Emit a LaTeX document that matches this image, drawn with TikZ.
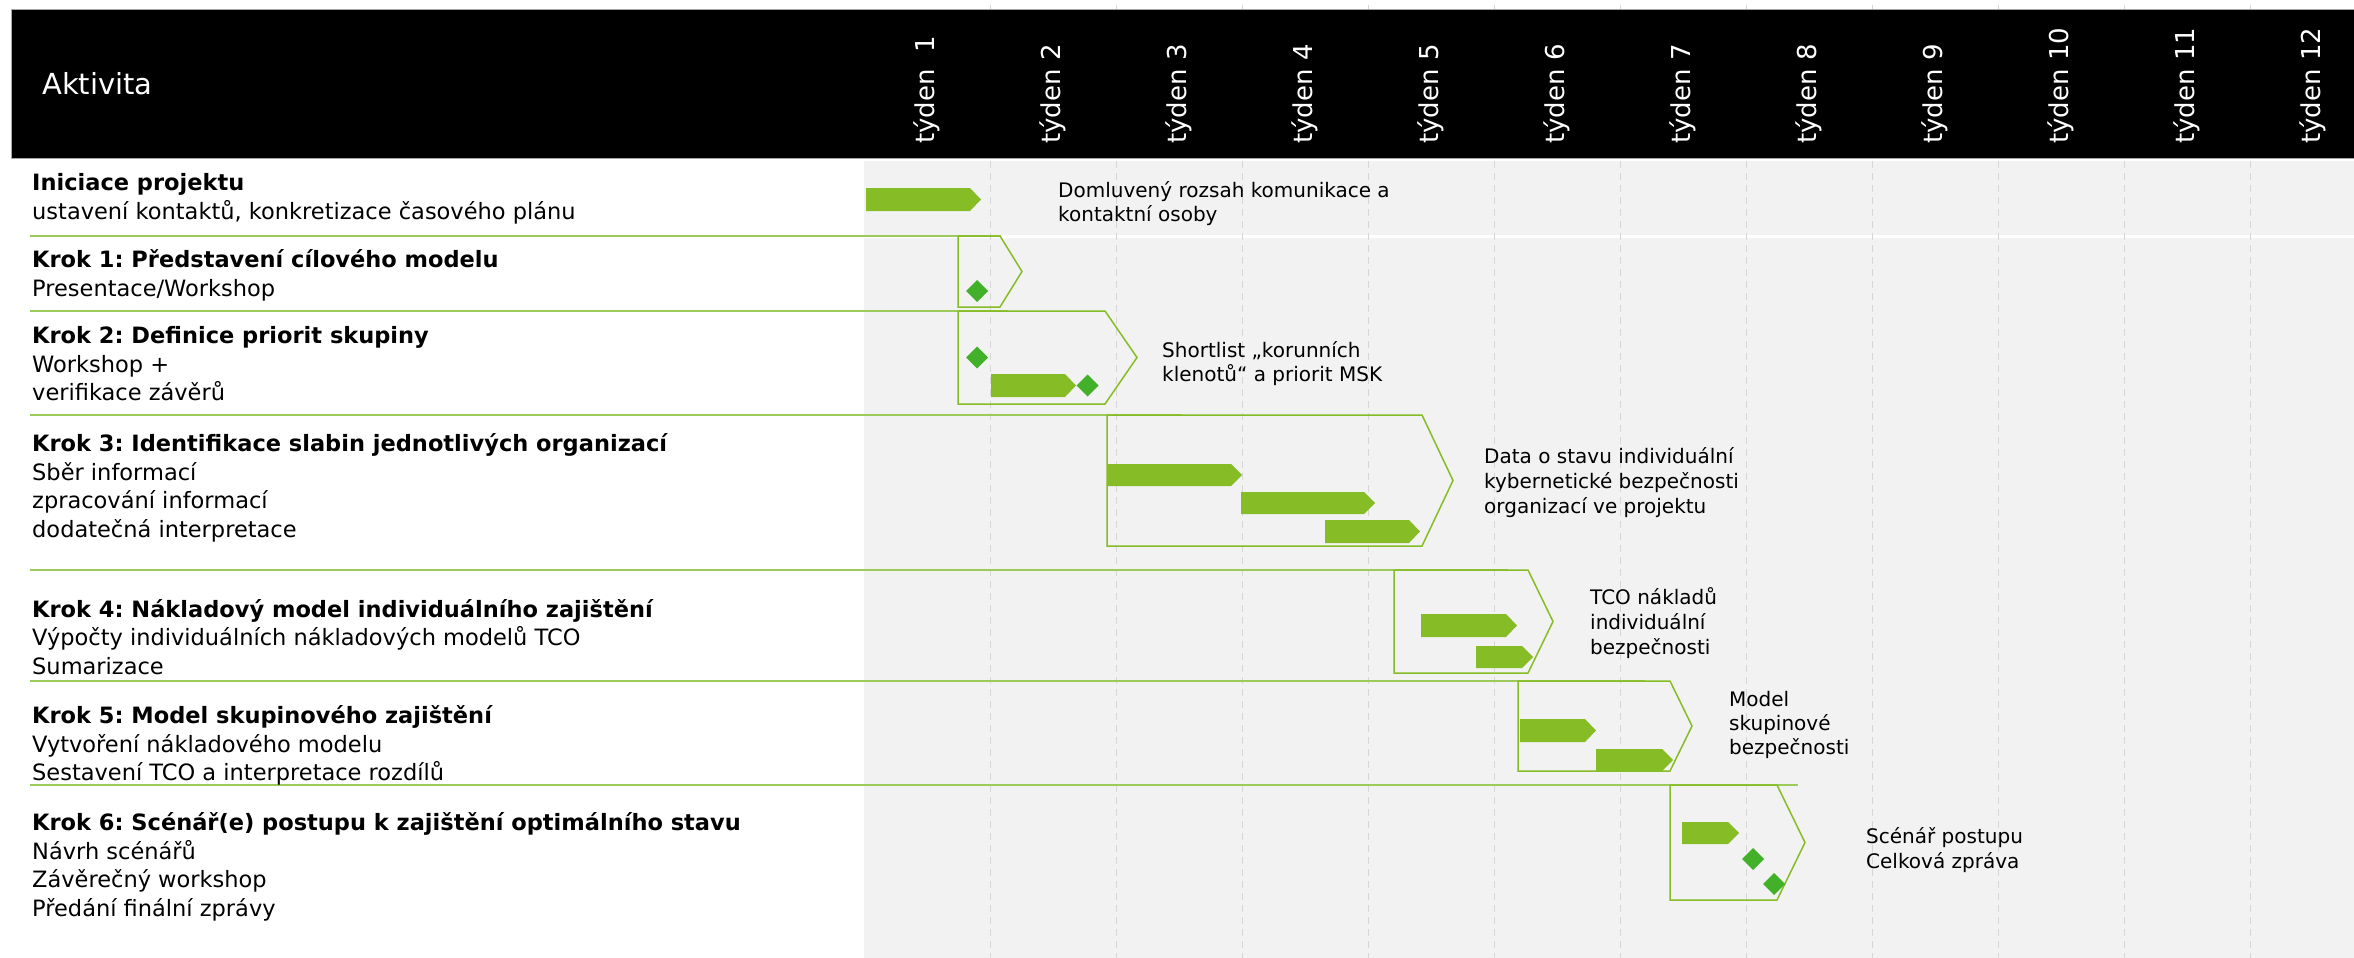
\documentclass[tikz,border=0pt]{standalone}
\usepackage{fontspec}
\setmainfont{DejaVu Sans}
\frenchspacing
\definecolor{dgreen}{HTML}{86BC25}
\definecolor{dkgreen}{HTML}{43B02A}
\definecolor{sepgreen}{HTML}{9CCB5C}
\definecolor{bggray}{HTML}{F2F2F2}
\definecolor{gridgray}{HTML}{D6D6D6}
\newcommand\gbar[4]{\fill[taskbar] (#1,#3) -- (#2-11,#3) -- (#2,{(#3+#4)/2}) -- (#2-11,#4) -- (#1,#4) -- cycle;}
\newcommand\gdia[2]{\fill[milestone] (#1,#2-11) -- (#1+11,#2) -- (#1,#2+11) -- (#1-11,#2) -- cycle;}
\newcommand\gchev[5]{\draw[chevbox] (#1,#2) -- (#3,#2) -- (#4,{(#2+#5)/2}) -- (#3,#5) -- (#1,#5) -- cycle;}
\begin{document}
\begin{tikzpicture}[x=1pt,y=-1pt,
  hdrbox/.style={fill=black,draw=black!35,line width=1},
  weeklbl/.style={text=white,font=\fontsize{26}{30}\selectfont,rotate=90,anchor=west,inner sep=0},
  hdrlbl/.style={text=white,font=\fontsize{29}{34}\selectfont,anchor=base west,inner sep=0},
  acttitle/.style={font=\bfseries\fontsize{22.5}{27}\selectfont,anchor=base west,inner sep=0},
  actline/.style={font=\fontsize{22.5}{27}\selectfont,anchor=base west,inner sep=0},
  outlbl/.style={font=\fontsize{20}{24}\selectfont,anchor=base west,inner sep=0},
  sepline/.style={draw=sepgreen,line width=2.5},
  chevbox/.style={draw=dgreen,line width=1.5,line join=miter},
  taskbar/.style={fill=dgreen},
  milestone/.style={fill=dkgreen},
  gridline/.style={draw=gridgray,line width=1,dash pattern=on 7pt off 5pt},
]
\useasboundingbox (0,0) rectangle (2354,958);
\fill[white] (0,0) rectangle (2354,958);
\fill[bggray] (864,161) rectangle (2354,958);
\draw[white,line width=3] (864,236) -- (2354,236);
\foreach \k in {1,...,11} \draw[gridline] ({864+126*\k},5) -- ({864+126*\k},958);
% header
\draw[hdrbox] (11,10) rectangle (2362,158);
\node[hdrlbl] (akt) at (42,94) {Aktivita};
\node[weeklbl] (w1) at (927,144) {týden\ \ 1};
\foreach \k in {2,...,12} \node[weeklbl] (w\k) at ({927+126*(\k-1)},144) {týden \k};
% separators
\draw[sepline] (30,236) -- (1001,236);
\draw[sepline] (30,311) -- (1008,311);
\draw[sepline] (30,415) -- (1182,415);
\draw[sepline] (30,570) -- (1508,570);
\draw[sepline] (30,681) -- (1645,681);
\draw[sepline] (30,785) -- (1798,785);
% chevrons
\gchev{958}{236}{1000}{1022}{307}
\gchev{958}{311}{1105}{1137}{404}
\gchev{1107}{415}{1422}{1453}{546}
\gchev{1394}{570}{1528}{1553}{673}
\gchev{1518}{681}{1670}{1692}{771}
\gchev{1670}{785}{1777}{1805}{900}
% bars
\gbar{866}{981}{188}{211}
\gbar{991}{1076}{374}{397}
\gbar{1108}{1242}{464}{486}
\gbar{1241}{1375}{492}{514}
\gbar{1325}{1420}{520}{543}
\gbar{1421}{1517}{614}{637}
\gbar{1476}{1533}{646}{668}
\gbar{1520}{1596}{719}{742}
\gbar{1596}{1673}{749}{771}
\gbar{1682}{1739}{822}{844}
% milestones
\gdia{977}{291}
\gdia{977}{357.5}
\gdia{1087.5}{385.5}
\gdia{1753}{859}
\gdia{1774}{884}
% activity texts
\node[acttitle] (a0) at (32,190.5) {Iniciace projektu};
\node[actline] (a0a) at (32,219.2) {ustavení kontaktů, konkretizace časového plánu};
\node[acttitle] (a1) at (32,267.5) {Krok 1: Představení cílového modelu};
\node[actline] (a1a) at (32,296.2) {Presentace/Workshop};
\node[acttitle] (a2) at (32,343.5) {Krok 2: Definice priorit skupiny};
\node[actline] (a2a) at (32,372.2) {Workshop +};
\node[actline] (a2b) at (32,400.9) {verifikace závěrů};
\node[acttitle] (a3) at (32,451.5) {Krok 3: Identifikace slabin jednotlivých organizací};
\node[actline] (a3a) at (32,480.2) {Sběr informací};
\node[actline] (a3b) at (32,508.9) {zpracování informací};
\node[actline] (a3c) at (32,537.6) {dodatečná interpretace};
\node[acttitle] (a4) at (32,617) {Krok 4: Nákladový model individuálního zajištění};
\node[actline] (a4a) at (32,645.7) {Výpočty individuálních nákladových modelů TCO};
\node[actline] (a4b) at (32,674.4) {Sumarizace};
\node[acttitle] (a5) at (32,723.5) {Krok 5: Model skupinového zajištění};
\node[actline] (a5a) at (32,752.2) {Vytvoření nákladového modelu};
\node[actline] (a5b) at (32,780.9) {Sestavení TCO a interpretace rozdílů};
\node[acttitle] (a6) at (32,830.5) {Krok 6: Scénář(e) postupu k zajištění optimálního stavu};
\node[actline] (a6a) at (32,859.2) {Návrh scénářů};
\node[actline] (a6b) at (32,887.9) {Závěrečný workshop};
\node[actline] (a6c) at (32,916.6) {Předání finální zprávy};
% outcome texts
\node[outlbl] (o0a) at (1058,197) {Domluvený rozsah komunikace a};
\node[outlbl] (o0b) at (1058,221) {kontaktní osoby};
\node[outlbl] (o2a) at (1162,357) {Shortlist „korunních};
\node[outlbl] (o2b) at (1162,381) {klenotů“ a priorit MSK};
\node[outlbl] (o3a) at (1484,463) {Data o stavu individuální};
\node[outlbl] (o3b) at (1484,488) {kybernetické bezpečnosti};
\node[outlbl] (o3c) at (1484,513) {organizací ve projektu};
\node[outlbl] (o4a) at (1590,604) {TCO nákladů};
\node[outlbl] (o4b) at (1590,629) {individuální};
\node[outlbl] (o4c) at (1590,654) {bezpečnosti};
\node[outlbl] (o5a) at (1729,706) {Model};
\node[outlbl] (o5b) at (1729,730) {skupinové};
\node[outlbl] (o5c) at (1729,754) {bezpečnosti};
\node[outlbl] (o6a) at (1866,843) {Scénář postupu};
\node[outlbl] (o6b) at (1866,868) {Celková zpráva};
\end{tikzpicture}
\end{document}
